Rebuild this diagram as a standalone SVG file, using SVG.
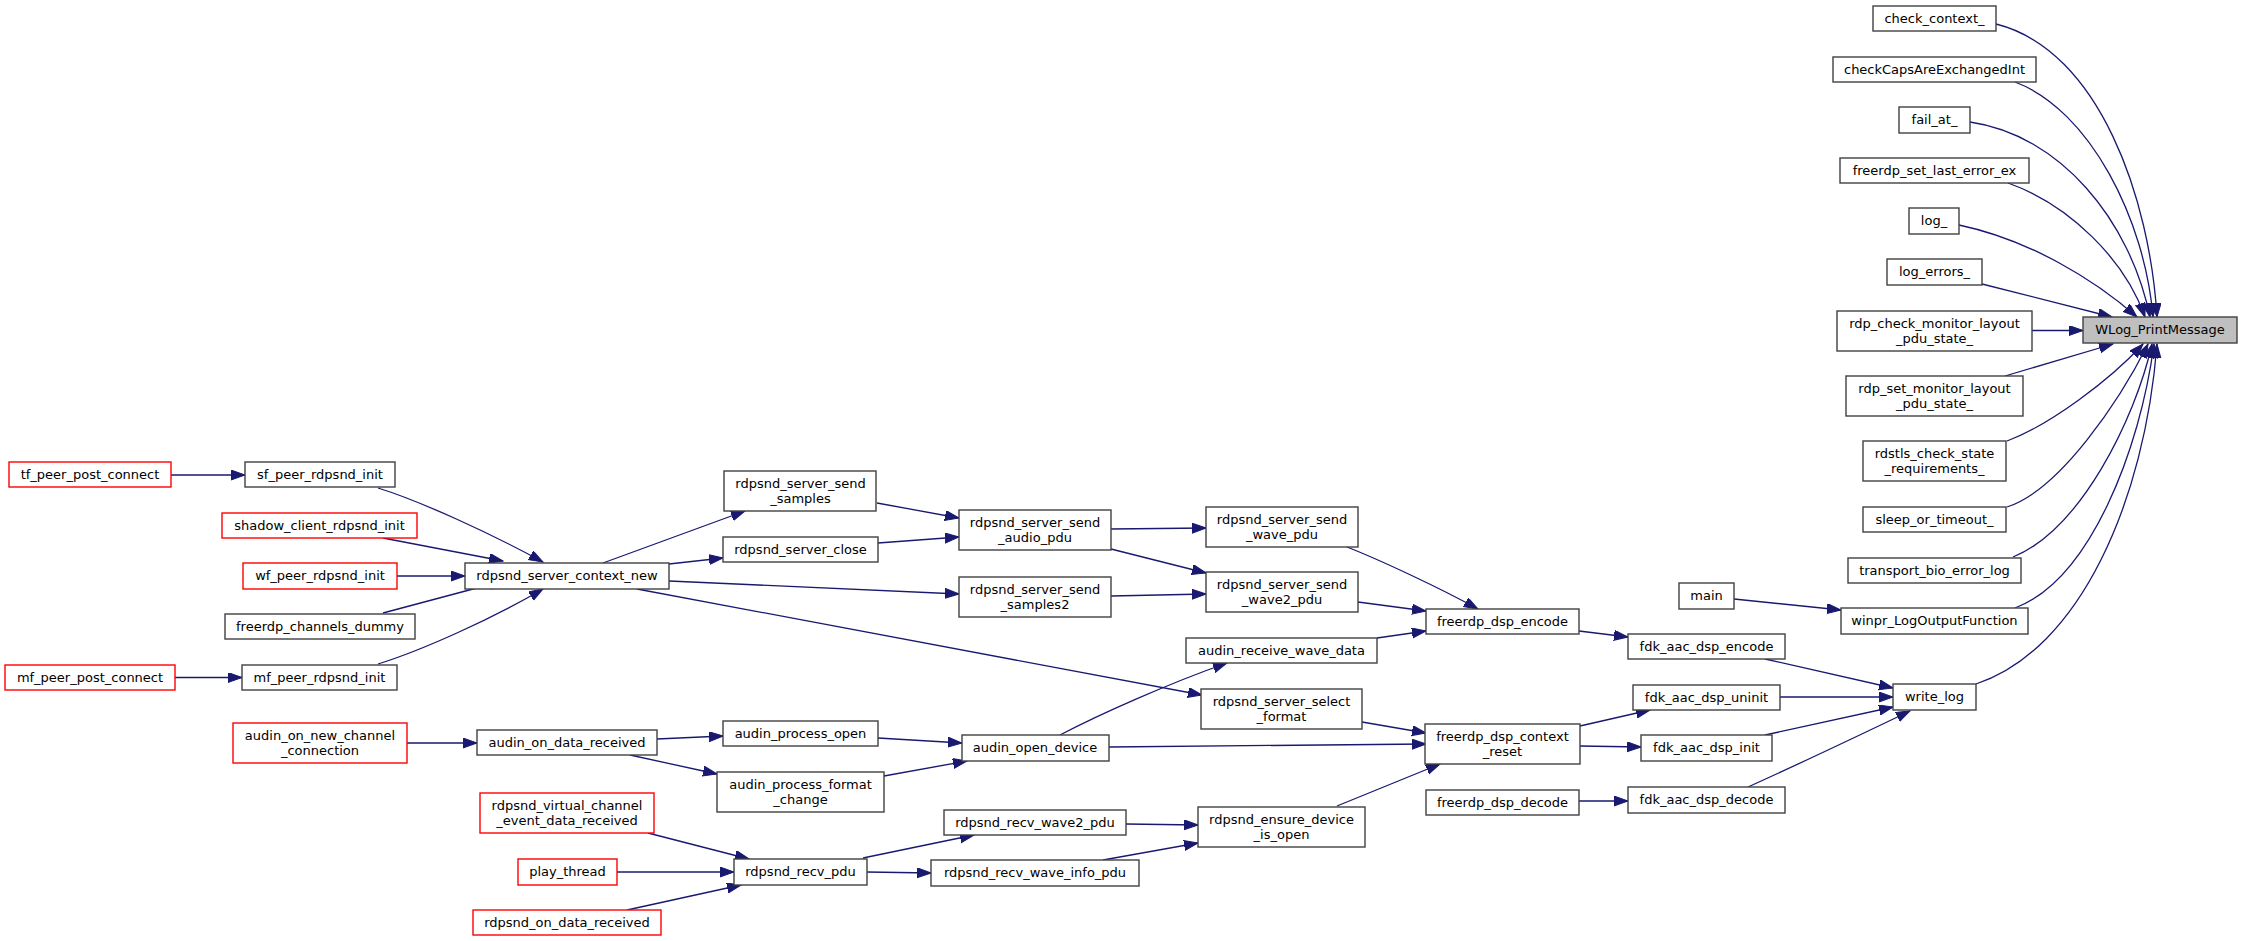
<svg xmlns="http://www.w3.org/2000/svg" width="2243" height="941" viewBox="0 0 2243 941">
<style>
.n rect{fill:#fff;stroke:#404040;stroke-width:1.4}
.r rect{fill:#fff;stroke:#ff0000;stroke-width:1.4}
.m rect{fill:#bfbfbf;stroke:#404040;stroke-width:1.4}
text{font-family:"DejaVu Sans","Liberation Sans",sans-serif;font-size:13px;fill:#000;text-anchor:middle}
#edges path{fill:none;stroke:#191970;stroke-width:1.3;marker-end:url(#ah)}
</style>
<defs>
<marker id="ah" markerUnits="userSpaceOnUse" markerWidth="15" markerHeight="11" refX="14" refY="5" orient="auto" viewBox="0 0 15 11">
<path d="M0,0 L14,5 L0,10 z" fill="#191970" stroke="#191970" stroke-width="1"/>
</marker>
</defs>
<rect x="0" y="0" width="2243" height="941" fill="#fff"/>
<g id="edges">
<path d="M1996,24 C2100,50 2150,200 2157,317"/>
<path d="M2015,82 C2090,110 2145,220 2153,317"/>
<path d="M1970,122 C2060,135 2130,220 2150,317"/>
<path d="M2008,183 C2070,205 2125,260 2145,317"/>
<path d="M1959,225 C2030,240 2095,280 2137,317"/>
<path d="M1982,284 L2112,317"/>
<path d="M2032,330.5 L2083,330.5"/>
<path d="M2005,376 L2113,344"/>
<path d="M2007,441 C2050,425 2110,380 2143,344"/>
<path d="M2007,507 C2060,490 2120,400 2148,344"/>
<path d="M2013,557 C2080,530 2135,420 2152,344"/>
<path d="M2015,608 C2090,580 2140,450 2154,344"/>
<path d="M1976,684 C2080,650 2145,500 2157,344"/>
<path d="M1734,599 L1841,610"/>
<path d="M1765,659 L1893,688"/>
<path d="M1780,697 L1893,697"/>
<path d="M1765,735 L1893,707"/>
<path d="M1748,787 C1790,768 1860,735 1910,711"/>
<path d="M1579,631 L1628,637"/>
<path d="M1580,726 L1650,710"/>
<path d="M1580,746 L1641,747"/>
<path d="M1579,801 L1628,801"/>
<path d="M1347,547 C1380,560 1440,588 1478,609"/>
<path d="M1358,602 L1426,611"/>
<path d="M1377,638 L1426,631"/>
<path d="M1362,722 L1426,733"/>
<path d="M1109,747 L1426,744"/>
<path d="M1337,806 L1440,764"/>
<path d="M1111,529 L1206,528"/>
<path d="M1111,549 L1206,573"/>
<path d="M1111,596 L1206,594"/>
<path d="M1060,735 C1100,714 1170,683 1227,663"/>
<path d="M1126,824 L1198,825"/>
<path d="M1103,860 L1198,843"/>
<path d="M877,503 L959,518"/>
<path d="M878,543 L959,537"/>
<path d="M878,738 L962,743"/>
<path d="M884,776 L967,761"/>
<path d="M863,858 L974,835"/>
<path d="M867,872 L931,873"/>
<path d="M603,563 L745,511"/>
<path d="M669,564 L723,558"/>
<path d="M669,581 L959,594"/>
<path d="M637,589 L1202,695"/>
<path d="M657,739 L723,736"/>
<path d="M630,755 L717,774"/>
<path d="M648,833 L749,859"/>
<path d="M617,872 L734,872"/>
<path d="M627,910 L741,885"/>
<path d="M407,743 L477,743"/>
<path d="M171,475 L245,475"/>
<path d="M175,677.5 L242,677.5"/>
<path d="M378,488 C420,501 490,533 543,562"/>
<path d="M383,538 L503,561"/>
<path d="M397,576 L465,576"/>
<path d="M383,613 L503,581"/>
<path d="M378,664 C420,651 490,620 543,589"/>
</g>
<g id="check_context_" class="n"><rect x="1873" y="6" width="123" height="25"/><text x="1934.5" y="22.5">check_context_</text></g>
<g id="checkCapsAreExchangedInt" class="n"><rect x="1833" y="57" width="203" height="25"/><text x="1934.5" y="73.5">checkCapsAreExchangedInt</text></g>
<g id="fail_at_" class="n"><rect x="1899" y="107" width="71" height="26"/><text x="1934.5" y="124">fail_at_</text></g>
<g id="freerdp_set_last_error_ex" class="n"><rect x="1840" y="158" width="189" height="25"/><text x="1934.5" y="174.5">freerdp_set_last_error_ex</text></g>
<g id="log_" class="n"><rect x="1909" y="208" width="50" height="26"/><text x="1934" y="225">log_</text></g>
<g id="log_errors_" class="n"><rect x="1887" y="259" width="95" height="26"/><text x="1934.5" y="276">log_errors_</text></g>
<g id="rdp_check_monitor_layout_pdu_state_" class="n"><rect x="1837" y="311" width="195" height="40"/><text x="1934.5" y="327.5">rdp_check_monitor_layout</text><text x="1934.5" y="342.5">_pdu_state_</text></g>
<g id="WLog_PrintMessage" class="m"><rect x="2083" y="317" width="154" height="26"/><text x="2160" y="334">WLog_PrintMessage</text></g>
<g id="rdp_set_monitor_layout_pdu_state_" class="n"><rect x="1846" y="376" width="177" height="40"/><text x="1934.5" y="392.5">rdp_set_monitor_layout</text><text x="1934.5" y="407.5">_pdu_state_</text></g>
<g id="rdstls_check_state_requirements_" class="n"><rect x="1863" y="441" width="143" height="40"/><text x="1934.5" y="457.5">rdstls_check_state</text><text x="1934.5" y="472.5">_requirements_</text></g>
<g id="sleep_or_timeout_" class="n"><rect x="1863" y="507" width="143" height="25"/><text x="1934.5" y="523.5">sleep_or_timeout_</text></g>
<g id="transport_bio_error_log" class="n"><rect x="1848" y="558" width="173" height="25"/><text x="1934.5" y="574.5">transport_bio_error_log</text></g>
<g id="winpr_LogOutputFunction" class="n"><rect x="1841" y="608" width="187" height="26"/><text x="1934.5" y="625">winpr_LogOutputFunction</text></g>
<g id="write_log" class="n"><rect x="1893" y="684" width="83" height="26"/><text x="1934.5" y="701">write_log</text></g>
<g id="main" class="n"><rect x="1679" y="583" width="55" height="26"/><text x="1706.5" y="600">main</text></g>
<g id="fdk_aac_dsp_encode" class="n"><rect x="1628" y="634" width="157" height="25"/><text x="1706.5" y="650.5">fdk_aac_dsp_encode</text></g>
<g id="fdk_aac_dsp_uninit" class="n"><rect x="1633" y="685" width="147" height="25"/><text x="1706.5" y="701.5">fdk_aac_dsp_uninit</text></g>
<g id="fdk_aac_dsp_init" class="n"><rect x="1641" y="735" width="131" height="26"/><text x="1706.5" y="752">fdk_aac_dsp_init</text></g>
<g id="fdk_aac_dsp_decode" class="n"><rect x="1628" y="787" width="157" height="26"/><text x="1706.5" y="804">fdk_aac_dsp_decode</text></g>
<g id="freerdp_dsp_encode" class="n"><rect x="1426" y="609" width="153" height="25"/><text x="1502.5" y="625.5">freerdp_dsp_encode</text></g>
<g id="freerdp_dsp_context_reset" class="n"><rect x="1425" y="724" width="155" height="40"/><text x="1502.5" y="740.5">freerdp_dsp_context</text><text x="1502.5" y="755.5">_reset</text></g>
<g id="freerdp_dsp_decode" class="n"><rect x="1426" y="790" width="153" height="25"/><text x="1502.5" y="806.5">freerdp_dsp_decode</text></g>
<g id="rdpsnd_server_send_wave_pdu" class="n"><rect x="1206" y="507" width="152" height="40"/><text x="1282" y="523.5">rdpsnd_server_send</text><text x="1282" y="538.5">_wave_pdu</text></g>
<g id="rdpsnd_server_send_wave2_pdu" class="n"><rect x="1206" y="572" width="152" height="40"/><text x="1282" y="588.5">rdpsnd_server_send</text><text x="1282" y="603.5">_wave2_pdu</text></g>
<g id="audin_receive_wave_data" class="n"><rect x="1186" y="638" width="191" height="25"/><text x="1281.5" y="654.5">audin_receive_wave_data</text></g>
<g id="rdpsnd_server_select_format" class="n"><rect x="1201" y="689" width="161" height="40"/><text x="1281.5" y="705.5">rdpsnd_server_select</text><text x="1281.5" y="720.5">_format</text></g>
<g id="rdpsnd_ensure_device_is_open" class="n"><rect x="1198" y="807" width="167" height="40"/><text x="1281.5" y="823.5">rdpsnd_ensure_device</text><text x="1281.5" y="838.5">_is_open</text></g>
<g id="rdpsnd_server_send_audio_pdu" class="n"><rect x="959" y="510" width="152" height="40"/><text x="1035" y="526.5">rdpsnd_server_send</text><text x="1035" y="541.5">_audio_pdu</text></g>
<g id="rdpsnd_server_send_samples2" class="n"><rect x="959" y="577" width="152" height="40"/><text x="1035" y="593.5">rdpsnd_server_send</text><text x="1035" y="608.5">_samples2</text></g>
<g id="audin_open_device" class="n"><rect x="962" y="735" width="147" height="26"/><text x="1035" y="752">audin_open_device</text></g>
<g id="rdpsnd_recv_wave2_pdu" class="n"><rect x="944" y="810" width="182" height="25"/><text x="1035" y="826.5">rdpsnd_recv_wave2_pdu</text></g>
<g id="rdpsnd_recv_wave_info_pdu" class="n"><rect x="931" y="860" width="208" height="26"/><text x="1035" y="877">rdpsnd_recv_wave_info_pdu</text></g>
<g id="rdpsnd_server_send_samples" class="n"><rect x="724" y="471" width="152" height="40"/><text x="800.5" y="487.5">rdpsnd_server_send</text><text x="800.5" y="502.5">_samples</text></g>
<g id="rdpsnd_server_close" class="n"><rect x="723" y="537" width="155" height="25"/><text x="800.5" y="553.5">rdpsnd_server_close</text></g>
<g id="audin_process_open" class="n"><rect x="723" y="721" width="155" height="25"/><text x="800.5" y="737.5">audin_process_open</text></g>
<g id="audin_process_format_change" class="n"><rect x="717" y="772" width="167" height="40"/><text x="800.5" y="788.5">audin_process_format</text><text x="800.5" y="803.5">_change</text></g>
<g id="rdpsnd_recv_pdu" class="n"><rect x="734" y="859" width="133" height="26"/><text x="800.5" y="876">rdpsnd_recv_pdu</text></g>
<g id="rdpsnd_server_context_new" class="n"><rect x="465" y="563" width="204" height="26"/><text x="567" y="580">rdpsnd_server_context_new</text></g>
<g id="audin_on_data_received" class="n"><rect x="477" y="730" width="180" height="25"/><text x="567" y="746.5">audin_on_data_received</text></g>
<g id="rdpsnd_virtual_channel_event_data_received" class="r"><rect x="480" y="793" width="174" height="40"/><text x="567" y="809.5">rdpsnd_virtual_channel</text><text x="567" y="824.5">_event_data_received</text></g>
<g id="play_thread" class="r"><rect x="518" y="859" width="99" height="26"/><text x="567.5" y="876">play_thread</text></g>
<g id="rdpsnd_on_data_received" class="r"><rect x="473" y="910" width="188" height="25"/><text x="567" y="926.5">rdpsnd_on_data_received</text></g>
<g id="tf_peer_post_connect" class="r"><rect x="9" y="462" width="162" height="25"/><text x="90" y="478.5">tf_peer_post_connect</text></g>
<g id="sf_peer_rdpsnd_init" class="n"><rect x="245" y="462" width="150" height="25"/><text x="320" y="478.5">sf_peer_rdpsnd_init</text></g>
<g id="shadow_client_rdpsnd_init" class="r"><rect x="222" y="513" width="195" height="25"/><text x="319.5" y="529.5">shadow_client_rdpsnd_init</text></g>
<g id="wf_peer_rdpsnd_init" class="r"><rect x="243" y="563" width="154" height="26"/><text x="320" y="580">wf_peer_rdpsnd_init</text></g>
<g id="freerdp_channels_dummy" class="n"><rect x="225" y="614" width="190" height="25"/><text x="320" y="630.5">freerdp_channels_dummy</text></g>
<g id="mf_peer_post_connect" class="r"><rect x="5" y="665" width="170" height="25"/><text x="90" y="681.5">mf_peer_post_connect</text></g>
<g id="mf_peer_rdpsnd_init" class="n"><rect x="242" y="665" width="155" height="25"/><text x="319.5" y="681.5">mf_peer_rdpsnd_init</text></g>
<g id="audin_on_new_channel_connection" class="r"><rect x="233" y="723" width="174" height="40"/><text x="320" y="739.5">audin_on_new_channel</text><text x="320" y="754.5">_connection</text></g>
</svg>
